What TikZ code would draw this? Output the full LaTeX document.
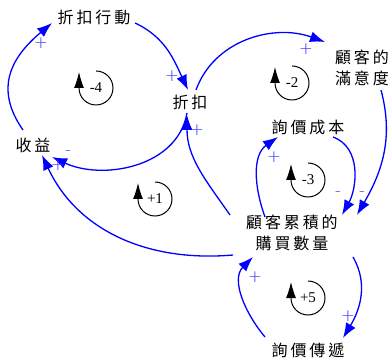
\documentclass[tikz,border=0pt]{standalone}
\usepackage{fontspec}
\setmainfont{Liberation Serif}
\newfontfamily\cjk[LetterSpace=18]{Noto Sans CJK TC}
\newfontfamily\signfont{DejaVu Sans ExtraLight}
\usetikzlibrary{arrows.meta}
\definecolor{linkblue}{RGB}{0,0,255}
\definecolor{signblue}{RGB}{60,60,255}

\begin{document}
\begin{tikzpicture}[x=1pt,y=1pt,
  var/.style={font=\cjk\fontsize{16}{21}\selectfont, inner sep=1pt, align=center},
  link/.style={draw=linkblue, line width=1.3pt, -{Latex[length=15pt,width=11pt]}},
  sign/.style={text=signblue, font=\signfont\fontsize{17}{17}\selectfont, inner sep=0pt},
  looplabel/.style={font=\fontsize{15}{15}\selectfont, inner sep=0pt},
  loopcirc/.style={draw=black, line width=1pt, -{Latex[length=16pt,width=10pt]}}
]
\useasboundingbox (0,0) rectangle (390,361);

% variables
\node[var] (act)    at (94,344)  {折扣行動};
\node[var] (rev)    at (33,216)  {收益};
\node[var] (disc)   at (190,259) {折扣};
\node[var] (sat)    at (362,293) {顧客的\\滿意度};
\node[var] (cost)   at (308,234) {詢價成本};
\node[var] (qty)    at (292,128) {顧客累積的\\購買數量};
\node[var] (spread) at (308,11)  {詢價傳遞};

% causal links
\draw[link] ([shift={(41,-6)}]act.center) to[out=-25,in=115] ([shift={(-2,12)}]disc.center);
\draw[link] ([shift={(-3,-11)}]disc.center) to[out=-100,in=-25] ([shift={(19,-12)}]rev.center);
\draw[link] ([shift={(-10,15)}]rev.center) to[out=125,in=-140,looseness=1.2] ([shift={(-42,-6)}]act.center);
\draw[link] ([shift={(6,12)}]disc.center) to[out=70,in=160] ([shift={(-37,26)}]sat.center);
\draw[link] ([shift={(19,-22)}]sat.center) to[out=-75,in=60] ([shift={(65,18)}]qty.center);
\draw[link] ([shift={(25,-10)}]cost.center) to[out=-20,in=61] ([shift={(50,18)}]qty.center);
\draw[link] ([shift={(-27,16)}]qty.center) to[out=110,in=-145] ([shift={(-30,-10)}]cost.center);
\draw[link] ([shift={(-62,18)}]qty.center) to[out=125,in=-90] ([shift={(-3,-13)}]disc.center);
\draw[link] ([shift={(-59,-22)}]qty.center) to[out=185,in=-65] ([shift={(9,-10)}]rev.center);
\draw[link] ([shift={(61,-24)}]qty.center) to[out=-60,in=59] ([shift={(35,12)}]spread.center);
\draw[link] ([shift={(-43,13)}]spread.center) to[out=130,in=-135] ([shift={(-39,-24)}]qty.center);

% polarities
\node[sign] (p1)  at (172,285) {+};
\node[sign] (p2)  at (68,208)  {-};
\node[sign] (p3)  at (41,318)  {+};
\node[sign] (p4)  at (58,196)  {+};
\node[sign] (p5)  at (306,312) {+};
\node[sign] (p6)  at (197,231) {+};
\node[sign] (p7)  at (274,204) {+};
\node[sign] (p8)  at (338,167) {-};
\node[sign] (p9)  at (362,167) {-};
\node[sign] (p10) at (255,84)  {+};
\node[sign] (p11) at (348,45)  {+};

% loop markers
\node[looplabel] (l4) at (96,273)  {-4};
\node[looplabel] (l2) at (292,278) {-2};
\node[looplabel] (l3) at (308,181) {-3};
\node[looplabel] (l1) at (155,162) {+1};
\node[looplabel] (l5) at (308,63)  {+5};
\foreach \n in {l4,l2,l3,l1,l5}
  \draw[loopcirc] ([yshift=17]\n.center) arc[start angle=90,end angle=-180,radius=17] -- ++(0,16);
\end{tikzpicture}
\end{document}
